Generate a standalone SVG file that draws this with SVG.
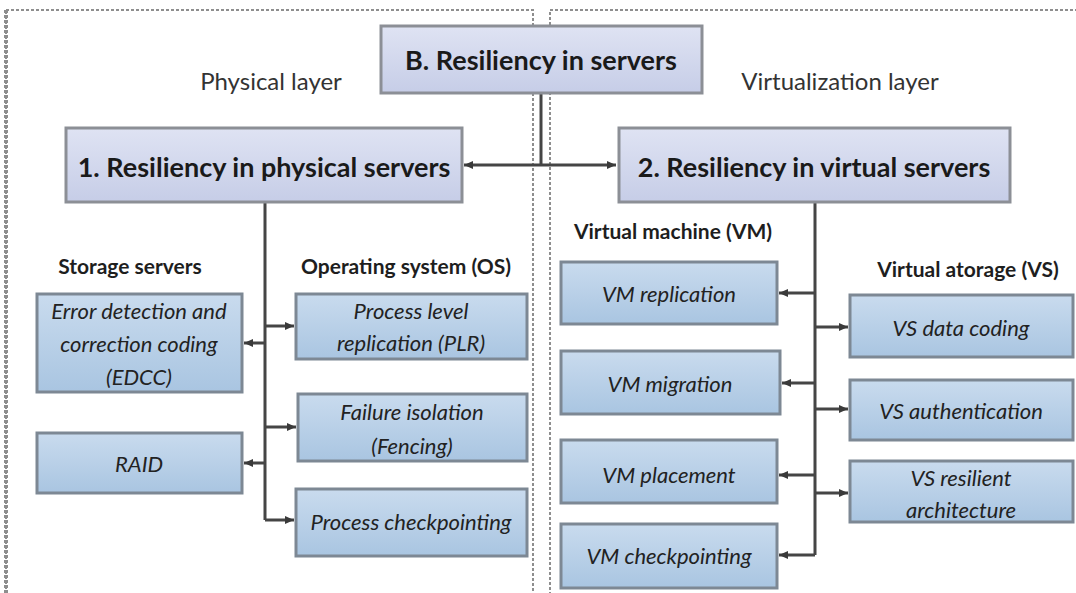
<svg xmlns="http://www.w3.org/2000/svg" width="1076" height="593" viewBox="0 0 1076 593">
<defs>
<linearGradient id="gTop" x1="0" y1="0" x2="0" y2="1">
<stop offset="0" stop-color="#dfe3f3"/>
<stop offset="1" stop-color="#c6cde7"/>
</linearGradient>
<linearGradient id="gLeaf" x1="0" y1="0" x2="0" y2="1">
<stop offset="0" stop-color="#c9dbee"/>
<stop offset="1" stop-color="#a9c5e1"/>
</linearGradient>
<marker id="ah" markerUnits="userSpaceOnUse" markerWidth="10" markerHeight="10" viewBox="0 0 10 10" refX="9" refY="5" orient="auto-start-reverse">
<path d="M0,1 L9,5 L0,9 Z" fill="#3a3a3a"/>
</marker>
</defs>
<style>
.frame{fill:none;stroke:#8e8e8e;stroke-width:2;stroke-dasharray:3 2}
.top rect{fill:url(#gTop);stroke:#8c8f96;stroke-width:3}
.leaf rect{fill:url(#gLeaf);stroke:#7d8894;stroke-width:3}
.tt{font-family:Lato,"Liberation Sans",sans-serif;font-weight:bold;font-size:27px;fill:#1a1a1a;text-anchor:middle;dominant-baseline:central}
.lt{font-family:Lato,"Liberation Sans",sans-serif;font-style:italic;font-size:22px;fill:#222;text-anchor:middle;dominant-baseline:central}
.layer{font-family:Lato,"Liberation Sans",sans-serif;font-size:24px;fill:#333;text-anchor:middle;dominant-baseline:central}
.cat{font-family:Lato,"Liberation Sans",sans-serif;font-weight:bold;font-size:21px;fill:#1e1e1e;text-anchor:middle;dominant-baseline:central}
.con{fill:none;stroke:#454545;stroke-width:3}
</style>
<rect width="1076" height="593" fill="#ffffff"/>
<rect class="frame" x="6" y="10" width="527" height="600"/>
<path d="M6,10 V593" stroke="#8e8e8e" stroke-width="4" stroke-dasharray="3 2" fill="none"/>
<rect class="frame" x="550" y="10" width="540" height="600"/>
<text class="layer" x="271" y="80">Physical layer</text>
<text class="layer" x="840" y="80">Virtualization layer</text>
<text class="cat" x="130" y="265">Storage servers</text>
<text class="cat" x="406" y="265">Operating system (OS)</text>
<text class="cat" x="673" y="230">Virtual machine (VM)</text>
<text class="cat" x="968" y="268">Virtual atorage (VS)</text>
<g id="connectors">
<path class="con" d="M541,92 V165" stroke="#5a5a5a"/>
<path class="con" d="M464,165 H616" marker-start="url(#ah)" marker-end="url(#ah)"/>
<path class="con" d="M265,203 V520"/>
<path class="con" d="M265,326 H294" marker-end="url(#ah)"/>
<path class="con" d="M265,427 H296" marker-end="url(#ah)"/>
<path class="con" d="M265,520 H294" marker-end="url(#ah)"/>
<path class="con" d="M265,343 H244" marker-end="url(#ah)"/>
<path class="con" d="M265,463 H244" marker-end="url(#ah)"/>
<path class="con" d="M815,203 V555"/>
<path class="con" d="M815,293 H779" marker-end="url(#ah)"/>
<path class="con" d="M815,383 H782" marker-end="url(#ah)"/>
<path class="con" d="M815,475 H779" marker-end="url(#ah)"/>
<path class="con" d="M815,555 H779" marker-end="url(#ah)"/>
<path class="con" d="M815,327 H848" marker-end="url(#ah)"/>
<path class="con" d="M815,409 H848" marker-end="url(#ah)"/>
<path class="con" d="M815,493 H848" marker-end="url(#ah)"/>
</g>
<g id="nodeB" class="top">
<rect x="381" y="26" width="321" height="67"/>
<text class="tt" x="541" y="59">B. Resiliency in servers</text>
</g>
<g id="node1" class="top">
<rect x="66" y="128" width="396" height="74"/>
<text class="tt" x="264" y="166">1.  Resiliency in physical servers</text>
</g>
<g id="node2" class="top">
<rect x="619" y="128" width="391" height="74"/>
<text class="tt" x="814" y="166">2.  Resiliency in virtual servers</text>
</g>
<g id="edcc" class="leaf">
<rect x="37" y="294" width="205" height="98"/>
<text class="lt" x="139" y="310">Error detection and</text>
<text class="lt" x="139" y="343">correction coding</text>
<text class="lt" x="139" y="376">(EDCC)</text>
</g>
<g id="raid" class="leaf">
<rect x="37" y="433" width="205" height="60"/>
<text class="lt" x="139" y="463">RAID</text>
</g>
<g id="plr" class="leaf">
<rect x="296" y="294" width="231" height="65"/>
<text class="lt" x="411" y="310">Process level</text>
<text class="lt" x="411" y="342">replication (PLR)</text>
</g>
<g id="fencing" class="leaf">
<rect x="298" y="394" width="229" height="67"/>
<text class="lt" x="412" y="411">Failure isolation</text>
<text class="lt" x="412" y="445">(Fencing)</text>
</g>
<g id="pchk" class="leaf">
<rect x="296" y="489" width="231" height="67"/>
<text class="lt" x="411" y="521">Process checkpointing</text>
</g>
<g id="vmrep" class="leaf">
<rect x="561" y="262" width="216" height="62"/>
<text class="lt" x="669" y="293">VM replication</text>
</g>
<g id="vmmig" class="leaf">
<rect x="561" y="351" width="219" height="63"/>
<text class="lt" x="670" y="383">VM migration</text>
</g>
<g id="vmplace" class="leaf">
<rect x="561" y="440" width="216" height="63"/>
<text class="lt" x="669" y="474">VM placement</text>
</g>
<g id="vmchk" class="leaf">
<rect x="561" y="524" width="216" height="64"/>
<text class="lt" x="669" y="555">VM checkpointing</text>
</g>
<g id="vsdata" class="leaf">
<rect x="850" y="295" width="223" height="62"/>
<text class="lt" x="961" y="327">VS data coding</text>
</g>
<g id="vsauth" class="leaf">
<rect x="850" y="380" width="223" height="60"/>
<text class="lt" x="961" y="410">VS authentication</text>
</g>
<g id="vsres" class="leaf">
<rect x="850" y="461" width="223" height="61"/>
<text class="lt" x="961" y="477">VS resilient</text>
<text class="lt" x="961" y="509">architecture</text>
</g>
</svg>
